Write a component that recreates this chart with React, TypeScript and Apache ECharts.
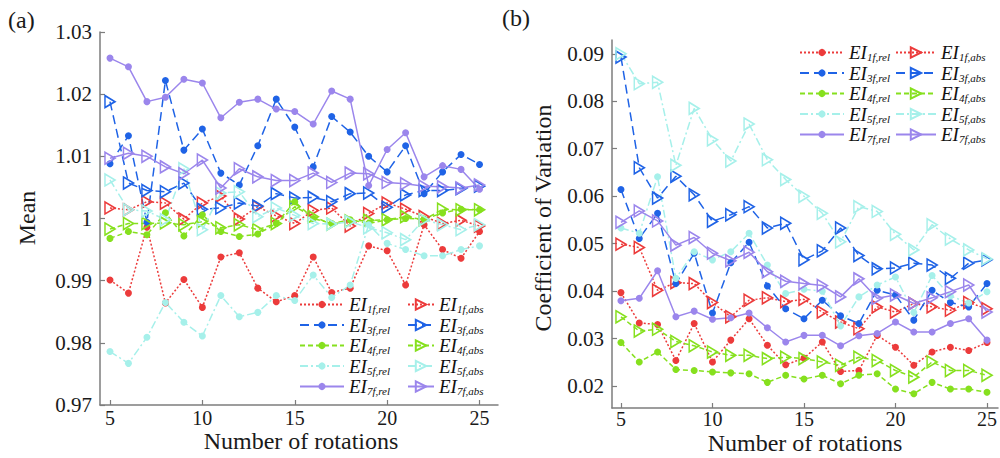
import React, { useEffect, useRef } from 'react';
import * as echarts from 'echarts';

const rotations = [5, 6, 7, 8, 9, 10, 11, 12, 13, 14, 15, 16, 17, 18, 19, 20, 21, 22, 23, 24, 25];
const xTicks = [5, 10, 15, 20, 25];
const meanTicks = [0.97, 0.98, 0.99, 1.0, 1.01, 1.02, 1.03];
const cvTicks = [0.02, 0.03, 0.04, 0.05, 0.06, 0.07, 0.08, 0.09];

// Panel (a): Mean
const meanRel1 = [0.9901, 0.9880, 0.9986, 0.9864, 0.9902, 0.9857, 0.9938, 0.9945, 0.9888, 0.9866, 0.9876, 0.9938, 0.9881, 0.9888, 0.9956, 0.9948, 0.9893, 0.9990, 0.9950, 0.9936, 0.9979];
const meanAbs1 = [1.0017, 1.0014, 1.0027, 1.0025, 0.9999, 1.0025, 1.0036, 0.9999, 1.0019, 1.0004, 0.9992, 1.0013, 1.0017, 0.9988, 1.0008, 1.0025, 1.0015, 1.0003, 0.9992, 0.9997, 0.9988];
const meanRel3 = [1.0088, 1.0133, 0.9994, 1.0222, 1.0110, 1.0144, 1.0073, 1.0054, 1.0117, 1.0192, 1.0147, 1.0083, 1.0164, 1.0139, 1.0100, 1.0075, 1.0117, 1.0040, 1.0075, 1.0103, 1.0087];
const meanAbs3 = [1.0188, 1.0057, 1.0045, 1.0043, 1.0057, 1.0015, 1.0017, 1.0025, 1.0020, 1.0040, 1.0033, 1.0034, 1.0027, 1.0040, 1.0041, 1.0018, 1.0038, 1.0045, 1.0045, 1.0048, 1.0052];
const meanRel4 = [0.9968, 0.9979, 0.9974, 1.0009, 0.9972, 1.0006, 0.9979, 0.9971, 0.9975, 0.9992, 1.0027, 1.0000, 0.9992, 0.9998, 0.9992, 0.9998, 1.0000, 0.9999, 1.0009, 1.0015, 1.0014];
const meanAbs4 = [0.9983, 0.9992, 0.9992, 0.9993, 0.9990, 0.9995, 0.9985, 0.9990, 0.9982, 0.9992, 1.0019, 1.0003, 0.9991, 0.9996, 0.9997, 0.9998, 1.0003, 0.9998, 1.0015, 1.0014, 1.0014];
const meanRel5 = [0.9786, 0.9767, 0.9809, 0.9865, 0.9833, 0.9811, 0.9876, 0.9842, 0.9849, 0.9876, 0.9868, 0.9909, 0.9873, 0.9893, 0.9990, 0.9960, 0.9950, 0.9940, 0.9940, 0.9950, 0.9956];
const meanAbs5 = [1.0062, 1.0014, 1.0012, 0.9998, 1.0080, 0.9982, 1.0041, 1.0043, 1.0003, 1.0017, 1.0005, 0.9992, 0.9991, 0.9995, 0.9985, 0.9977, 0.9966, 0.9998, 0.9990, 0.9982, 0.9990];
const meanRel7 = [1.0258, 1.0244, 1.0188, 1.0195, 1.0224, 1.0218, 1.0162, 1.0187, 1.0192, 1.0176, 1.0172, 1.0152, 1.0205, 1.0192, 1.0053, 1.0111, 1.0138, 1.0067, 1.0085, 1.0079, 1.0047];
const meanAbs7 = [1.0097, 1.0105, 1.0100, 1.0083, 1.0072, 1.0094, 1.0049, 1.0080, 1.0067, 1.0061, 1.0061, 1.0073, 1.0058, 1.0073, 1.0072, 1.0058, 1.0056, 1.0052, 1.0051, 1.0049, 1.0054];

// Panel (b): Coefficient of Variation
const cvRel1 = [0.0397, 0.0333, 0.0330, 0.0254, 0.0332, 0.0251, 0.0297, 0.0342, 0.0286, 0.0245, 0.0259, 0.0293, 0.0231, 0.0233, 0.0307, 0.0282, 0.0244, 0.0272, 0.0282, 0.0275, 0.0292];
const cvAbs1 = [0.0499, 0.0492, 0.0402, 0.0418, 0.0416, 0.0376, 0.0346, 0.0381, 0.0386, 0.0378, 0.0383, 0.0356, 0.0335, 0.0321, 0.0367, 0.0356, 0.0374, 0.0367, 0.0360, 0.0376, 0.0363];
const cvRel3 = [0.0614, 0.0511, 0.0564, 0.0416, 0.0480, 0.0354, 0.0460, 0.0503, 0.0411, 0.0363, 0.0342, 0.0381, 0.0348, 0.0332, 0.0402, 0.0392, 0.0339, 0.0402, 0.0376, 0.0367, 0.0416];
const cvAbs3 = [0.0893, 0.0660, 0.0596, 0.0642, 0.0603, 0.0547, 0.0561, 0.0578, 0.0533, 0.0543, 0.0466, 0.0485, 0.0533, 0.0475, 0.0447, 0.0449, 0.0459, 0.0455, 0.0427, 0.0459, 0.0466];
const cvRel4 = [0.0292, 0.0251, 0.0272, 0.0235, 0.0233, 0.0230, 0.0228, 0.0226, 0.0208, 0.0223, 0.0215, 0.0223, 0.0205, 0.0223, 0.0226, 0.0194, 0.0184, 0.0208, 0.0194, 0.0194, 0.0187];
const cvAbs4 = [0.0346, 0.0316, 0.0320, 0.0294, 0.0285, 0.0272, 0.0265, 0.0265, 0.0258, 0.0261, 0.0258, 0.0251, 0.0244, 0.0261, 0.0254, 0.0233, 0.0219, 0.0251, 0.0233, 0.0233, 0.0223];
const cvRel5 = [0.0533, 0.0522, 0.0641, 0.0427, 0.0483, 0.0466, 0.0483, 0.0522, 0.0455, 0.0395, 0.0404, 0.0400, 0.0327, 0.0388, 0.0413, 0.0430, 0.0355, 0.0433, 0.0390, 0.0375, 0.0399];
const cvAbs5 = [0.0900, 0.0837, 0.0840, 0.0665, 0.0785, 0.0719, 0.0674, 0.0752, 0.0677, 0.0635, 0.0600, 0.0564, 0.0504, 0.0578, 0.0568, 0.0520, 0.0487, 0.0540, 0.0510, 0.0487, 0.0468];
const cvRel7 = [0.0380, 0.0385, 0.0443, 0.0346, 0.0358, 0.0341, 0.0344, 0.0354, 0.0323, 0.0293, 0.0307, 0.0307, 0.0285, 0.0306, 0.0311, 0.0335, 0.0314, 0.0314, 0.0332, 0.0342, 0.0297];
const cvAbs7 = [0.0545, 0.0569, 0.0548, 0.0497, 0.0513, 0.0480, 0.0464, 0.0482, 0.0441, 0.0421, 0.0416, 0.0412, 0.0388, 0.0426, 0.0385, 0.0392, 0.0374, 0.0386, 0.0399, 0.0413, 0.0356];

const groups = ['1f', '3f', '4f', '5f', '7f'];
const colors: Record<string, string> = {
  '1f': '#ec3b3b',
  '3f': '#1f63e6',
  '4f': '#86e01e',
  '5f': '#a6f0ea',
  '7f': '#9b86ec',
};
const dashes: Record<string, any> = {
  '1f': [2, 2],
  '3f': [9, 5],
  '4f': [5, 3],
  '5f': [8, 3, 2, 3],
  '7f': 'solid',
};

const meanData: Record<string, number[][]> = {
  '1f': [meanRel1, meanAbs1],
  '3f': [meanRel3, meanAbs3],
  '4f': [meanRel4, meanAbs4],
  '5f': [meanRel5, meanAbs5],
  '7f': [meanRel7, meanAbs7],
};
const cvData: Record<string, number[][]> = {
  '1f': [cvRel1, cvAbs1],
  '3f': [cvRel3, cvAbs3],
  '4f': [cvRel4, cvAbs4],
  '5f': [cvRel5, cvAbs5],
  '7f': [cvRel7, cvAbs7],
};

const SERIF = 'Liberation Serif';
const TRI = 'path://M0,0L10,6L0,12Z';

function buildSeries(panel: string, gridIndex: number, data: Record<string, number[][]>) {
  const out: any[] = [];
  groups.forEach((g) => {
    const c = colors[g];
    const [rel, abs] = data[g];
    out.push({
      type: 'line',
      name: `${panel}|${g},rel`,
      xAxisIndex: gridIndex,
      yAxisIndex: gridIndex,
      data: rotations.map((x, i) => [x, rel[i]]),
      symbol: 'circle',
      symbolSize: 7,
      showAllSymbol: true,
      lineStyle: { color: c, width: 1.5, type: dashes[g] },
      itemStyle: { color: c, borderWidth: 0 },
      emphasis: { disabled: true },
    });
    out.push({
      type: 'line',
      name: `${panel}|${g},abs`,
      xAxisIndex: gridIndex,
      yAxisIndex: gridIndex,
      data: rotations.map((x, i) => [x, abs[i]]),
      symbol: TRI,
      symbolSize: [10, 12],
      showAllSymbol: true,
      lineStyle: { color: c, width: 1.5, type: dashes[g] },
      itemStyle: { color: 'rgba(255,255,255,0)', borderColor: c, borderWidth: 1.6 },
      emphasis: { disabled: true },
    });
  });
  return out;
}

const legendRich = {
  e: { fontFamily: SERIF, fontStyle: 'italic', fontSize: 19, color: '#111', lineHeight: 20 },
  s: { fontFamily: SERIF, fontStyle: 'italic', fontSize: 11, color: '#111', lineHeight: 12, verticalAlign: 'bottom', padding: [0, 0, 0, 0] },
};
const legendFormatter = (name: string) => `{e|EI}{s|${name.split('|')[1]}}`;

function makeLegend(panel: string, kind: string, left: number, top: number, itemWidth: number, itemHeight: number) {
  return {
    orient: 'vertical',
    left,
    top,
    padding: 0,
    itemGap: 1,
    itemWidth,
    itemHeight,
    selectedMode: false,
    data: groups.map((g) => `${panel}|${g},${kind}`),
    formatter: legendFormatter,
    textStyle: { rich: legendRich },
  };
}

const axisColor = '#7d7d7d';
const fmt = (v: number) => String(parseFloat(v.toFixed(3)));

function xAxisCfg(gridIndex: number, min: number, max: number, margin: number) {
  return {
    type: 'value',
    gridIndex,
    min,
    max,
    axisLine: { lineStyle: { color: axisColor, width: 1.5 } },
    axisTick: { inside: true, length: 5, customValues: xTicks, lineStyle: { color: axisColor, width: 1.2 } },
    axisLabel: { customValues: xTicks, fontFamily: SERIF, fontSize: 20, color: '#1a1a1a', margin, formatter: fmt },
    splitLine: { show: false },
  };
}
function yAxisCfg(gridIndex: number, min: number, max: number, ticks: number[]) {
  return {
    type: 'value',
    gridIndex,
    min,
    max,
    axisLine: { show: true, lineStyle: { color: axisColor, width: 1.5 } },
    axisTick: { show: true, inside: true, length: 5, customValues: ticks, lineStyle: { color: axisColor, width: 1.2 } },
    axisLabel: { customValues: ticks, fontFamily: SERIF, fontSize: 21, color: '#1a1a1a', margin: 8, formatter: fmt },
    splitLine: { show: false },
  };
}

const titleStyle = { fontFamily: SERIF, fontSize: 24, fill: '#1a1a1a' };

export default function App() {
  const ref = useRef<HTMLDivElement>(null);
  useEffect(() => {
    const chart = echarts.init(ref.current!, null, { renderer: 'svg' });
    const option: any = {
      animation: false,
      backgroundColor: '#ffffff',
      grid: [
        { left: 100, top: 32, right: 502, bottom: 53, containLabel: false },
        { left: 612, top: 40, right: 0, bottom: 50, containLabel: false },
      ],
      xAxis: [xAxisCfg(0, 4.46, 26, 3), xAxisCfg(1, 4.51, 25.6, 1)],
      yAxis: [yAxisCfg(0, 0.97, 1.03, meanTicks), yAxisCfg(1, 0.0154, 0.0929, cvTicks)],
      legend: [
        makeLegend('a', 'rel', 299, 295, 44, 9),
        makeLegend('a', 'abs', 407, 295, 26, 13),
        makeLegend('b', 'rel', 799, 43, 44, 9),
        makeLegend('b', 'abs', 895, 43, 40, 13),
      ],
      series: [...buildSeries('a', 0, meanData), ...buildSeries('b', 1, cvData)],
      graphic: [
        { type: 'text', left: 8, top: 8, style: { text: '(a)', fontFamily: SERIF, fontSize: 24, fill: '#1a1a1a' } },
        { type: 'text', left: 502, top: 6, style: { text: '(b)', fontFamily: SERIF, fontSize: 24, fill: '#1a1a1a' } },
        { type: 'text', x: 27, y: 218, rotation: Math.PI / 2, style: { text: 'Mean', ...titleStyle, textAlign: 'center', textVerticalAlign: 'middle' } },
        { type: 'text', x: 543, y: 218, rotation: Math.PI / 2, style: { text: 'Coefficient of Variation', ...titleStyle, textAlign: 'center', textVerticalAlign: 'middle' } },
        { type: 'text', x: 301, y: 441, style: { text: 'Number of rotations', ...titleStyle, textAlign: 'center', textVerticalAlign: 'middle' } },
        { type: 'text', x: 805, y: 443, style: { text: 'Number of rotations', ...titleStyle, textAlign: 'center', textVerticalAlign: 'middle' } },
      ],
    };
    chart.setOption(option);
    return () => chart.dispose();
  }, []);
  return <div ref={ref} style={{ width: 1000, height: 458, position: 'absolute', left: 0, top: 0 }} />;
}
